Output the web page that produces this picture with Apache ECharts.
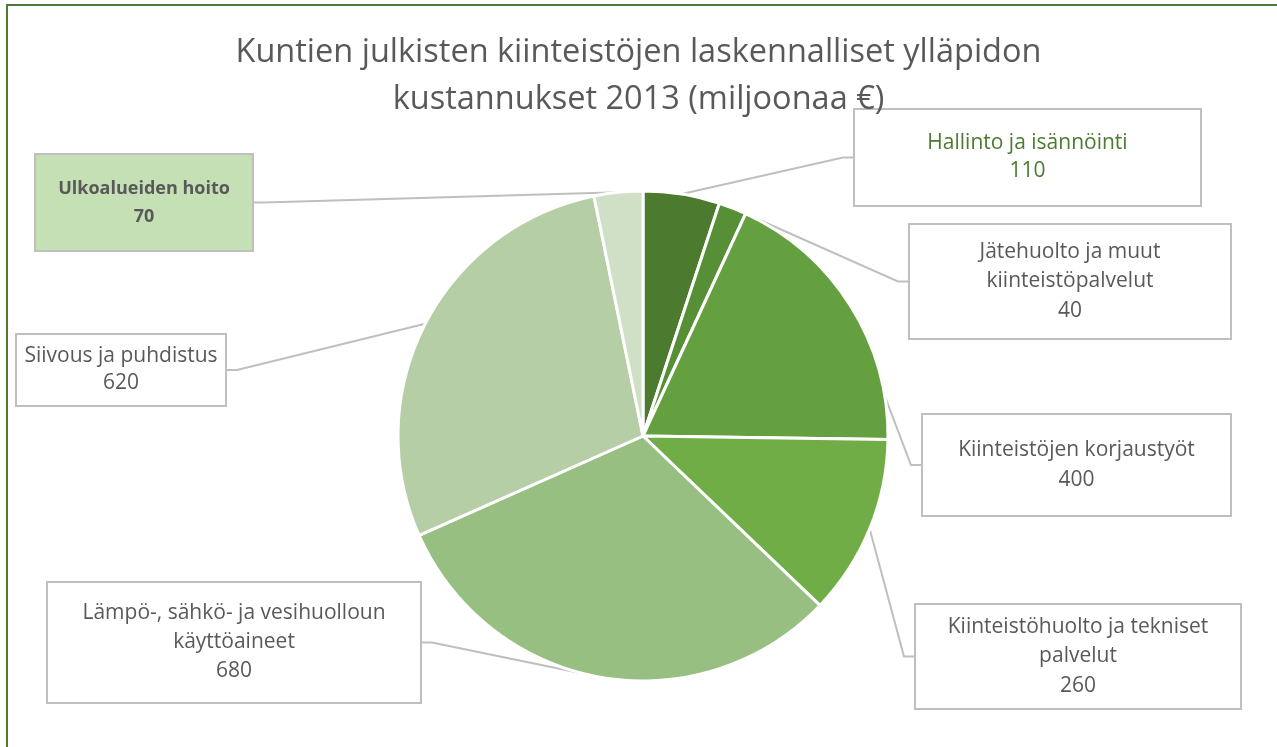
<!DOCTYPE html>
<html>
<head>
<meta charset="utf-8">
<script src="https://cdn.jsdelivr.net/npm/echarts@6/dist/echarts.min.js"></script>
<style>
  html, body { margin: 0; padding: 0; background: #fff; overflow: hidden; }
  #frame {
    position: absolute; left: 6px; top: 4px; width: 1300px; height: 800px;
    border-top: 2px solid #4f7a36; border-left: 2px solid #4f7a36;
  }
  #chart { position: absolute; left: 0; top: 0; width: 1277px; height: 747px; }
</style>
</head>
<body>
<div id="frame"></div>
<div id="chart"></div>
<script>
const categories = [
  'Hallinto ja isännöinti',
  'Jätehuolto ja muut\nkiinteistöpalvelut',
  'Kiinteistöjen korjaustyöt',
  'Kiinteistöhuolto ja tekniset\npalvelut',
  'Lämpö-, sähkö- ja vesihuolloun\nkäyttöaineet',
  'Siivous ja puhdistus',
  'Ulkoalueiden hoito'
]
const values = [110, 40, 400, 260, 680, 620, 70]
const colors = ['#4c7a2f', '#578f37', '#65a040', '#70ad47', '#98bf82', '#b5cea5', '#d0e0c6']

// label boxes: left, top, width, height, lines, lineHeight
const boxes = [
  [855, 110, 345, 95, 2, 28],
  [910, 225, 320, 113, 3, 29.5],
  [923, 415, 307, 100, 2, 30],
  [916, 605, 324, 103, 3, 29.5],
  [48, 583, 372, 119, 3, 29],
  [17, 335, 208, 70, 2, 27],
  [36, 155, 216, 95, 2, 28]
]

const chart = echarts.init(document.getElementById('chart'))

const seriesData = categories.map((name, i) => {
  const [x, y, w, h, n, lh] = boxes[i]
  const padV = (h - n * lh) / 2
  const item = {
    name: name,
    value: values[i],
    itemStyle: { color: colors[i] },
    label: {
      width: w - 8,
      lineHeight: lh,
      padding: [padV, 4, padV, 4]
    }
  }
  if (i === 0) item.label.color = '#4c7a2f'
  if (i === 6) {
    item.label.fontWeight = 'bold'
    item.label.fontSize = 18
    item.label.backgroundColor = '#c5e0b4'
  }
  return item
})

const option = {
  animation: false,
  title: {
    text: 'Kuntien julkisten kiinteistöjen laskennalliset ylläpidon\nkustannukset 2013 (miljoonaa €)',
    left: 'center',
    top: 29,
    padding: 0,
    textStyle: {
      fontFamily: 'Open Sans',
      fontWeight: 'normal',
      fontSize: 32.5,
      lineHeight: 47,
      color: '#595959'
    }
  },
  series: [
    {
      type: 'pie',
      center: [643, 436],
      radius: 245,
      startAngle: 90,
      clockwise: true,
      itemStyle: { borderColor: '#fff', borderWidth: 3 },
      label: {
        position: 'outside',
        formatter: '{b}\n{c}',
        fontFamily: 'Open Sans',
        fontSize: 21,
        color: '#595959',
        align: 'center',
        backgroundColor: '#fff',
        borderColor: '#bfbfbf',
        borderWidth: 2
      },
      labelLine: {
        show: true,
        length: 10,
        length2: 10,
        lineStyle: { color: '#bfbfbf', width: 2 }
      },
      labelLayout: function (params) {
        const b = boxes[params.dataIndex]
        return {
          x: b[0] + b[2] / 2,
          y: b[1],
          align: 'center',
          verticalAlign: 'top'
        }
      },
      data: seriesData
    }
  ]
}

chart.setOption(option)
</script>
</body>
</html>
